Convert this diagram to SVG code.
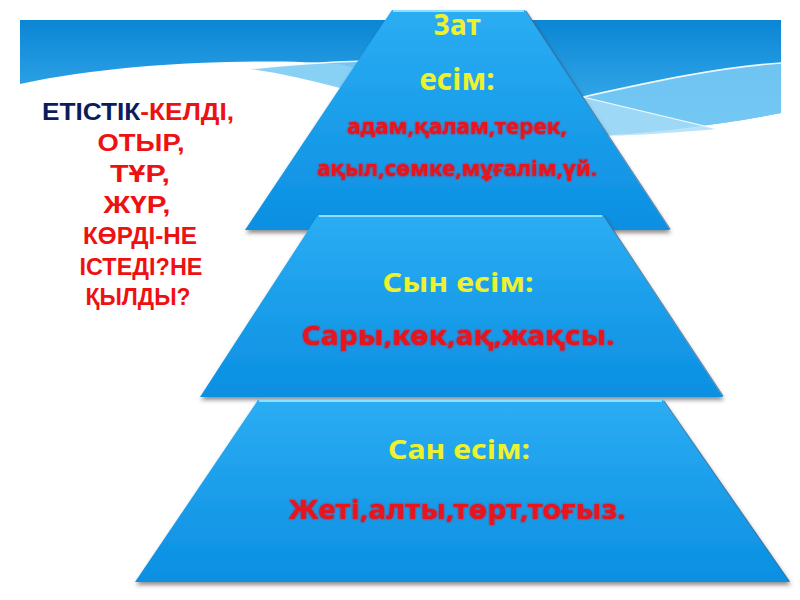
<svg xmlns="http://www.w3.org/2000/svg" width="800" height="600" viewBox="0 0 800 600">
  <defs>
    <linearGradient id="bandGrad" x1="0" y1="0" x2="0" y2="1">
      <stop offset="0" stop-color="#0b86d4"/>
      <stop offset="0.55" stop-color="#2a9fe4"/>
      <stop offset="1" stop-color="#4fb5ec"/>
    </linearGradient>
    <linearGradient id="layerGrad" x1="0" y1="0" x2="0" y2="1">
      <stop offset="0" stop-color="#2badf3"/>
      <stop offset="1" stop-color="#0b8fe2"/>
    </linearGradient>
    <filter id="shadow" x="-10%" y="-10%" width="120%" height="125%">
      <feDropShadow dx="1" dy="3" stdDeviation="2" flood-color="#333" flood-opacity="0.55"/>
    </filter>
    <filter id="glow" x="-5%" y="-30%" width="110%" height="160%">
      <feGaussianBlur in="SourceGraphic" stdDeviation="1" result="b"/>
      <feMerge><feMergeNode in="b"/><feMergeNode in="SourceGraphic"/></feMerge>
    </filter>
    <style>
      .layer { fill: url(#layerGrad); filter: url(#shadow); }
      .hi { stroke: #8fe0ff; stroke-width: 2; fill: none; }
      .edge { stroke: #3a6f9a; stroke-width: 1.2; fill: none; opacity: 0.8; }
      .ttl { font-family: "Noto Sans", "Open Sans", sans-serif; font-weight: bold; fill: #eef22e; text-anchor: middle; }
      .red { font-family: "Noto Sans", "Open Sans", sans-serif; font-weight: bold; fill: #e8121c; text-anchor: middle; filter: url(#glow); }
      .lt { font-family: "Liberation Sans", Arial, sans-serif; font-weight: bold; font-size: 23px; fill: #ee1111; text-anchor: middle; }
      .navy { fill: #0c1c5c; }
      .wl { stroke: #ffffff; fill: none; }
    </style>
  </defs>

  <rect x="0" y="0" width="800" height="600" fill="#ffffff"/>

  <g id="background-band">
    <path d="M20,20 H781 V113 C720,125 650,133 590,136 L470,100 L340,64 C260,58 120,62 20,84 Z" fill="url(#bandGrad)"/>
    <path d="M583,97 C650,82 720,67 781,63 V113 C720,125 650,133 593,136 Z" fill="#7ccbf4" opacity="0.85"/>
    <path d="M583,97 L717,129 C660,134 620,136 593,136 Z" fill="#a9dcf8" opacity="0.8"/>
    <path d="M583,97 C650,82 720,67 781,63" class="wl" stroke-width="1.6" opacity="0.9"/>
    <path d="M583,97 L717,129" class="wl" stroke-width="1.2" opacity="0.9"/>
    <path d="M250,69 C290,64 330,62 365,61 L340,88 C310,80 280,73 250,69 Z" fill="#7ccbf4" opacity="0.9"/>
    <path d="M235,71 C280,65 330,62 365,61" class="wl" stroke-width="1.4" opacity="0.9"/>
  </g>

  <g id="verb-text">
    <text class="lt" x="138" y="120" textLength="192" lengthAdjust="spacingAndGlyphs"><tspan class="navy">ЕТІСТІК</tspan>-КЕЛДІ,</text>
    <text class="lt" x="141" y="151" textLength="87" lengthAdjust="spacingAndGlyphs">ОТЫР,</text>
    <text class="lt" x="140" y="182" textLength="60" lengthAdjust="spacingAndGlyphs">ТҰР,</text>
    <text class="lt" x="137" y="213" textLength="67" lengthAdjust="spacingAndGlyphs">ЖҮР,</text>
    <text class="lt" x="140" y="244" textLength="114" lengthAdjust="spacingAndGlyphs">КӨРДІ-НЕ</text>
    <text class="lt" x="141" y="275" textLength="123" lengthAdjust="spacingAndGlyphs">ІСТЕДІ?НЕ</text>
    <text class="lt" x="138" y="305" textLength="105" lengthAdjust="spacingAndGlyphs">ҚЫЛДЫ?</text>
  </g>

  <g id="layer-zat">
    <path class="layer" d="M392,10 L525,10 L670,230 L245,230 Z"/>
    <path class="hi" d="M393,11 L524,11"/>
    <path class="edge" d="M526,11 L670,229"/>
    <text class="ttl" x="457" y="35" font-size="28" textLength="47" lengthAdjust="spacingAndGlyphs">Зат</text>
    <text class="ttl" x="457" y="90" font-size="30" textLength="75" lengthAdjust="spacingAndGlyphs">есім:</text>
    <text class="red" x="457" y="134" font-size="21" textLength="220" lengthAdjust="spacingAndGlyphs">адам,қалам,терек,</text>
    <text class="red" x="457" y="176" font-size="21" textLength="280" lengthAdjust="spacingAndGlyphs">ақыл,сөмке,мұғалім,үй.</text>
  </g>

  <g id="layer-syn">
    <path class="layer" d="M318,215 L603,215 L723,397 L200,397 Z"/>
    <path class="hi" d="M319,216 L602,216"/>
    <path class="edge" d="M604,216 L723,396"/>
    <text class="ttl" x="458" y="292" font-size="27" textLength="151" lengthAdjust="spacingAndGlyphs">Сын есім:</text>
    <text class="red" x="458" y="345" font-size="27" textLength="313" lengthAdjust="spacingAndGlyphs">Сары,көк,ақ,жақсы.</text>
  </g>

  <g id="layer-san">
    <path class="layer" d="M258,400 L663,400 L790,582 L135,582 Z"/>
    <path class="hi" d="M259,401 L662,401"/>
    <path class="edge" d="M664,401 L789,581"/>
    <text class="ttl" x="459" y="459" font-size="27" textLength="142" lengthAdjust="spacingAndGlyphs">Сан есім:</text>
    <text class="red" x="457" y="519" font-size="27" textLength="337" lengthAdjust="spacingAndGlyphs">Жеті,алты,төрт,тоғыз.</text>
  </g>
</svg>
